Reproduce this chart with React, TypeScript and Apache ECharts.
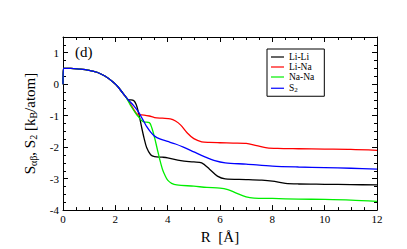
import React, { useEffect, useRef } from "react";
import * as echarts from "echarts";

const seriesNames = ["Li-Li", "Li-Na", "Na-Na", "S2"];
const seriesColors = ["#000000", "#ff0000", "#00ee00", "#0000ff"];

const common: number[][] = [
  [0, 0], [0.02, 0.5], [0.3, 0.5], [0.6, 0.48], [1.0, 0.44], [1.3, 0.38], [1.6, 0.26],
  [1.9, 0.08], [2.1, -0.08], [2.3, -0.3], [2.4, -0.4],
];

const liLi: number[][] = [
  [2.5, -0.5], [2.6, -0.5], [2.7, -0.52], [2.8, -0.65], [2.9, -0.95], [3.0, -1.35],
  [3.1, -1.72], [3.2, -2.02], [3.35, -2.24], [3.5, -2.3], [3.8, -2.32], [4.0, -2.34],
  [4.5, -2.43], [5.0, -2.47], [5.3, -2.5], [5.6, -2.7], [5.9, -2.92], [6.2, -3.01],
  [7.0, -3.03], [7.6, -3.05], [8.0, -3.08], [8.5, -3.15], [9.0, -3.17], [10.0, -3.18],
  [11.0, -3.19], [12.0, -3.2],
];

const liNa: number[][] = [
  [2.5, -0.52], [2.6, -0.66], [2.7, -0.8], [2.8, -0.92], [2.9, -0.97], [3.1, -0.98],
  [3.3, -1.01], [3.5, -1.06], [3.8, -1.08], [4.1, -1.1], [4.3, -1.17], [4.5, -1.3],
  [4.75, -1.55], [5.0, -1.73], [5.3, -1.83], [5.6, -1.85], [6.0, -1.86], [6.5, -1.87],
  [7.0, -1.88], [7.4, -1.95], [7.8, -2.02], [8.2, -2.04], [9.0, -2.05], [10.0, -2.06],
  [11.0, -2.07], [12.0, -2.1],
];

const naNa: number[][] = [
  [2.5, -0.55], [2.6, -0.7], [2.8, -0.95], [2.9, -1.05], [3.0, -1.15], [3.1, -1.2],
  [3.3, -1.22], [3.4, -1.4], [3.5, -1.7], [3.6, -2.05], [3.7, -2.4], [3.8, -2.7],
  [3.9, -2.9], [4.0, -3.05], [4.15, -3.15], [4.35, -3.2], [5.0, -3.24], [5.5, -3.28],
  [6.0, -3.3], [6.3, -3.35], [6.6, -3.45], [7.0, -3.58], [7.3, -3.62], [8.0, -3.63],
  [9.0, -3.65], [10.0, -3.66], [11.0, -3.68], [12.0, -3.72],
];

const s2: number[][] = [
  [2.5, -0.5], [2.7, -0.68], [2.9, -0.9], [3.0, -1.05], [3.1, -1.2], [3.2, -1.35],
  [3.35, -1.52], [3.5, -1.65], [3.7, -1.74], [4.0, -1.82], [4.3, -1.9], [4.6, -2.0],
  [5.0, -2.15], [5.4, -2.3], [5.8, -2.43], [6.2, -2.5], [7.0, -2.54], [8.0, -2.6],
  [9.0, -2.63], [10.0, -2.65], [11.0, -2.67], [12.0, -2.7],
];

const seriesData = [liLi, liNa, naNa, s2];
const xTicks = { min: 0, max: 12, interval: 2 };
const yTicks = { min: -4, max: 1.5, interval: 1 };

const FONT = '"Liberation Serif", "DejaVu Serif", serif';

export default function App() {
  const ref = useRef<HTMLDivElement>(null);
  useEffect(() => {
    if (!ref.current) return;
    const chart = echarts.init(ref.current, undefined, { renderer: "svg" });
    const axisBase = {
      axisLine: { show: true, onZero: false, lineStyle: { color: "#000", width: 1 } },
      axisTick: { show: true, inside: true, length: 5, lineStyle: { color: "#000" } },
      minorTick: { show: true, splitNumber: 4, length: 3, lineStyle: { color: "#000" } },
      splitLine: { show: false },
    };
    chart.setOption({
      animation: false,
      backgroundColor: "#fff",
      grid: { left: 63, right: 30, top: 37, bottom: 38 },
      legend: {
        left: 267,
        top: 49,
        orient: "vertical",
        borderColor: "#000",
        borderWidth: 1,
        padding: [3, 10, 3, 4],
        itemGap: 0,
        itemWidth: 13,
        itemHeight: 1.2,
        icon: "rect",
        data: seriesNames,
        textStyle: {
          fontFamily: FONT,
          fontSize: 9.5,
          color: "#000",
          lineHeight: 9.5,
          rich: {
            n: { fontFamily: FONT, fontSize: 9.5, color: "#000", lineHeight: 9.5 },
            s: { fontFamily: FONT, fontSize: 7, color: "#000", lineHeight: 9.5, verticalAlign: "bottom", padding: [4, 0, 0, 0] },
          },
        },
        formatter: (name: string) => (name === "S2" ? "{n|S}{s|2}" : name),
      },
      graphic: [
        {
          type: "text",
          left: 75,
          top: 44,
          style: { text: "(d)", font: `15px ${FONT}`, fill: "#000" },
        },
      ],
      xAxis: [
        {
          ...axisBase,
          type: "value",
          position: "bottom",
          ...xTicks,
          name: "R  [Å]",
          nameLocation: "middle",
          nameGap: 11,
          nameTextStyle: { fontFamily: FONT, fontSize: 15, color: "#000" },
          axisLabel: { fontFamily: FONT, fontSize: 11, color: "#000", margin: 3 },
        },
        {
          ...axisBase,
          type: "value",
          position: "top",
          ...xTicks,
          axisLabel: { show: false },
        },
      ],
      yAxis: [
        {
          ...axisBase,
          type: "value",
          position: "left",
          ...yTicks,
          name: "{n|S}{s|αβ}{n|, S}{s|2}{n| [k}{s|B}{n|/atom]}",
          nameLocation: "middle",
          nameGap: 23,
          nameRotate: 90,
          nameTextStyle: {
            color: "#000",
            rich: {
              n: { fontFamily: FONT, fontSize: 15, color: "#000", lineHeight: 18 },
              s: { fontFamily: FONT, fontSize: 10, color: "#000", lineHeight: 18, verticalAlign: "bottom", padding: [8, 0, 0, 0] },
            },
          },
          axisLabel: {
            fontFamily: FONT,
            fontSize: 11,
            color: "#000",
            margin: 4,
            formatter: (v: number) => (Number.isInteger(v) ? String(v) : ""),
          },
        },
        {
          ...axisBase,
          type: "value",
          position: "right",
          ...yTicks,
          axisLabel: { show: false },
        },
      ],
      series: seriesNames.map((name, i) => ({
        name,
        type: "line",
        data: [...common, ...seriesData[i]],
        showSymbol: false,
        smooth: 0.3,
        lineStyle: { color: seriesColors[i], width: 1.3 },
        itemStyle: { color: seriesColors[i] },
        z: 2 + i,
      })),
    });
    return () => chart.dispose();
  }, []);
  return <div ref={ref} style={{ position: "fixed", left: 0, top: 0, width: 407, height: 249 }} />;
}
